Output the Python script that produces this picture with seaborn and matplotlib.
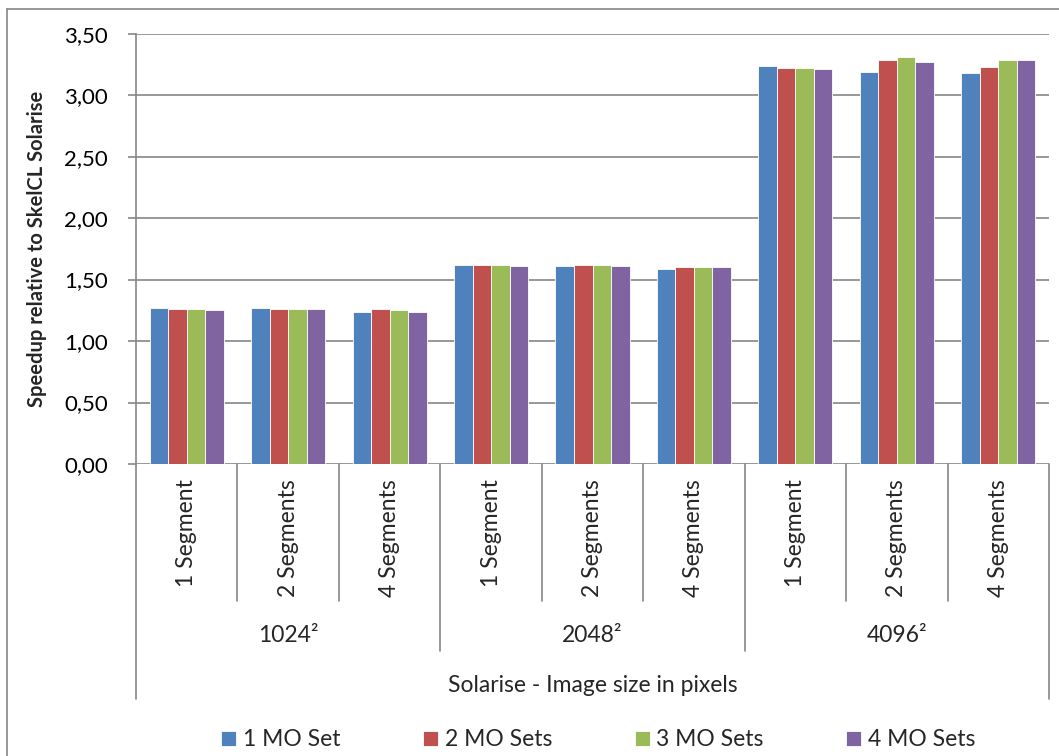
import matplotlib
matplotlib.use("Agg")
import matplotlib.pyplot as plt
import matplotlib.transforms as mtransforms
from matplotlib.lines import Line2D
import seaborn as sns
import pandas as pd

# ---- data -------------------------------------------------------------
image_sizes = ["1024²", "2048²", "4096²"]
segments = ["1 Segment", "2 Segments", "4 Segments"]
series = ["1 MO Set", "2 MO Sets", "3 MO Sets", "4 MO Sets"]

# speedup per (image size, segment count), one list per MO-set series
mo1 = [1.27, 1.27, 1.24, 1.62, 1.61, 1.59, 3.24, 3.19, 3.18]
mo2 = [1.26, 1.26, 1.26, 1.62, 1.62, 1.60, 3.22, 3.29, 3.23]
mo3 = [1.26, 1.26, 1.25, 1.62, 1.62, 1.60, 3.22, 3.31, 3.29]
mo4 = [1.25, 1.26, 1.24, 1.61, 1.61, 1.60, 3.21, 3.27, 3.29]

y_ticks = [0.0, 0.5, 1.0, 1.5, 2.0, 2.5, 3.0, 3.5]
colors = ["#4F81BD", "#C0504D", "#9BBB59", "#8064A2"]

# ---- long table -------------------------------------------------------
keys = [f"{s}|{g}" for s in image_sizes for g in segments]
rows = []
for name, vals in zip(series, [mo1, mo2, mo3, mo4]):
    for k, v in zip(keys, vals):
        rows.append({"cat": k, "series": name, "value": v})
df = pd.DataFrame(rows)

# ---- figure -----------------------------------------------------------
sns.set_theme(style="white")
plt.rcParams["font.family"] = ["Lato", "DejaVu Sans"]
W, H = 1059, 756
fig = plt.figure(figsize=(W / 100, H / 100), dpi=100)
L, R, T, B = 136, 1049, 33.7, 464
ax = fig.add_axes([L / W, 1 - B / H, (R - L) / W, (B - T) / H])

sns.barplot(data=df, x="cat", y="value", hue="series", order=keys,
            hue_order=series, palette=colors, width=0.73, ax=ax,
            edgecolor="#ffffff", linewidth=0.6, saturation=1, legend=True)

ax.set_ylim(0, 3.5)
ax.set_xlim(-0.5, len(keys) - 0.5)
ax.set_yticks(y_ticks)
ax.set_yticklabels([f"{t:.2f}".replace(".", ",") for t in y_ticks],
                   fontsize=16, color="#000000")
ax.yaxis.grid(True, color="#868686", linewidth=1.2)
ax.set_axisbelow(True)
ax.tick_params(axis="y", length=6, width=1.2, color="#868686", pad=14,
               direction="out", left=True)
for sp in ["top", "right", "bottom"]:
    ax.spines[sp].set_visible(False)
ax.spines["left"].set_color("#868686")
ax.spines["left"].set_linewidth(1.2)

# hierarchical category axis
ax.set_xticks(range(len(keys)))
ax.set_xticklabels([])
ax.tick_params(axis="x", length=0)
ax.set_xlabel("")
ax.set_ylabel("Speedup relative to SkelCL Solarise", fontsize=14.5,
              fontweight="bold")
ax.yaxis.set_label_coords((47 - L) / (R - L), 0.5)

trans = mtransforms.blended_transform_factory(ax.transData, fig.transFigure)
def fy(px):
    return 1 - px / H

line_kw = dict(color="#868686", linewidth=1.2, clip_on=False, transform=trans)
# segment separators
for i in range(len(keys) + 1):
    x = i - 0.5
    if i % 3 != 0:
        bottom = 601
    elif i in (0, len(keys)):
        bottom = 699
    else:
        bottom = 651
    fig.add_artist(Line2D([x, x], [fy(464), fy(bottom)], **line_kw))

for i, k in enumerate(keys):
    seg = k.split("|")[1]
    ax.text(i, fy(479), seg, rotation=90, ha="center", va="top",
            fontsize=16.5, transform=trans)
for j, s in enumerate(image_sizes):
    ax.text(3 * j + 1, fy(636), s, ha="center", va="center",
            fontsize=16.5, transform=trans)
ax.text((len(keys) - 1) / 2, fy(686), "Solarise - Image size in pixels",
        ha="center", va="center", fontsize=16.5, transform=trans)

# legend along the bottom
handles, labels = ax.get_legend_handles_labels()
ax.legend_.remove()
fig.legend(handles, labels, loc="center", bbox_to_anchor=(0.565, fy(740)),
           ncol=4, frameon=False, fontsize=16.5, handlelength=0.65,
           handleheight=0.65, handletextpad=0.3, columnspacing=3.6)

# outer chart frame
frame_kw = dict(color="#868686", linewidth=1.2, transform=fig.transFigure)
fig.add_artist(Line2D([7 / W, 7 / W], [fy(9), 0], **frame_kw))
fig.add_artist(Line2D([7 / W, 1], [fy(9), fy(9)], **frame_kw))

fig.savefig("out.png", dpi=100, facecolor="white")
